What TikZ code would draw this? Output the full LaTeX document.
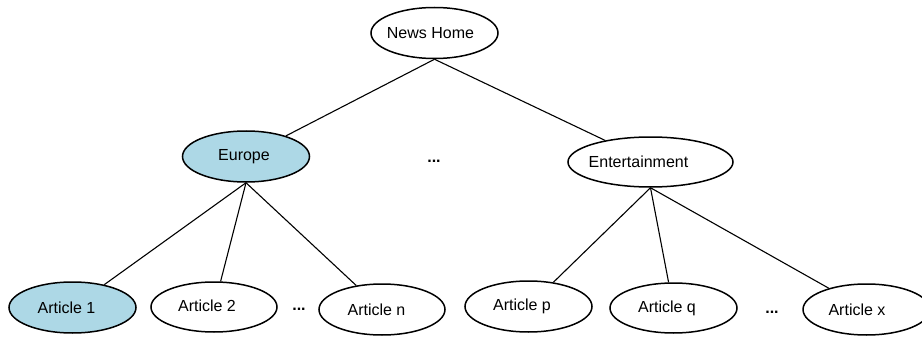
\documentclass[tikz,border=0pt]{standalone}
\usepackage{fontspec}
\setmainfont{Liberation Sans}
\usetikzlibrary{shapes.geometric}
\definecolor{lightblu}{RGB}{173,216,230}
\newcommand{\shiftx}[2]{\hspace*{#1}#2}
\begin{document}
\begin{tikzpicture}[x=1pt,y=1pt,
  page/.style={ellipse,draw,line width=1.5pt,inner sep=0pt,minimum width=127pt,minimum height=51pt,font=\fontsize{16}{18}\selectfont},
  hl/.style={fill=lightblu},
  gap/.style={inner sep=0pt,font=\fontsize{16}{18}\selectfont\bfseries},
  link/.style={line width=1.1pt}]
\useasboundingbox (0,0) rectangle (922,-337);
\clip (0,0) rectangle (922,-337);
\node[page] (home) at (434.5,-33) {\shiftx{-8pt}{News Home}};
\node[page,hl] (eu) at (246,-156.5) {\shiftx{-4pt}{Europe}};
\node[gap] (d1) at (434,-161) {...};
\node[page,minimum width=165pt,minimum height=50pt] (ent) at (650.5,-162) {\shiftx{-24pt}{Entertainment}};
\node[page,hl] (a1) at (72.5,-307.5) {\shiftx{-12pt}{Article 1}};
\node[page,minimum width=126pt,minimum height=50pt] (a2) at (214,-307) {\shiftx{-14pt}{\raisebox{2pt}{Article 2}}};
\node[gap] (d2) at (299,-309) {...};
\node[page,minimum width=126pt] (an) at (382,-309.5) {\shiftx{-11pt}{Article n}};
\node[page] (ap) at (528.5,-306.5) {\shiftx{-13pt}{\raisebox{1.5pt}{Article p}}};
\node[page,minimum height=50pt] (aq) at (673.5,-308) {\shiftx{-13pt}{\raisebox{-3pt}{Article q}}};
\node[gap] (d3) at (772,-312) {...};
\node[page] (ax) at (866.5,-309.5) {\shiftx{-19pt}{\raisebox{-1.5pt}{Article x}}};
\draw[link] (home.south) -- (eu);
\draw[link] (home.south) -- (ent);
\draw[link] (eu.south) -- (a1);
\draw[link] (eu.south) -- (a2);
\draw[link] (eu.south) -- (an);
\draw[link] (ent.south) -- (ap);
\draw[link] (ent.south) -- (aq);
\draw[link] (ent.south) -- (ax);
\end{tikzpicture}
\end{document}
